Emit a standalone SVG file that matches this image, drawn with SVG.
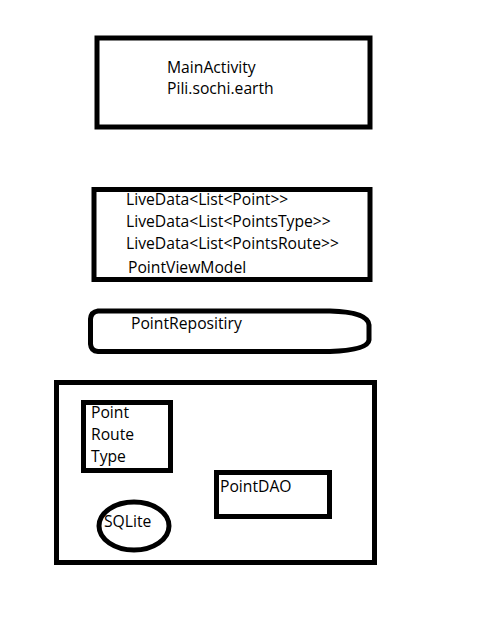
<svg xmlns="http://www.w3.org/2000/svg" width="480" height="640" viewBox="0 0 480 640">
<style>
.s{fill:none;stroke:#000;stroke-width:5}
.t{font-family:"Open Sans","Noto Sans",sans-serif;font-size:15.7px;fill:#000}
</style>
<rect width="480" height="640" fill="#fff"/>
<g id="main-activity">
<rect class="s" x="97" y="38" width="273" height="89"/>
<text class="t" x="167" y="73">MainActivity</text>
<text class="t" x="167" y="94">Pili.sochi.earth</text>
</g>
<g id="point-view-model">
<rect class="s" x="94" y="189.5" width="276" height="90"/>
<text class="t" x="126" y="205">LiveData&lt;List&lt;Point&gt;&gt;</text>
<text class="t" x="126" y="227">LiveData&lt;List&lt;PointsType&gt;&gt;</text>
<text class="t" x="126" y="248.5">LiveData&lt;List&lt;PointsRoute&gt;&gt;</text>
<text class="t" x="128" y="273">PointViewModel</text>
</g>
<g id="point-repository">
<path class="s" d="M98,311 L330,311 Q368,312 369,325 L369,340 Q368,350 330,351.5 L98,351.5 Q91,351 90.5,344 L90.5,319 Q91,312 98,311 Z"/>
<text class="t" x="131" y="329">PointRepositiry</text>
</g>
<g id="database">
<rect class="s" x="56.5" y="382.5" width="318" height="180"/>
</g>
<g id="entities">
<rect class="s" x="83.5" y="402.5" width="87" height="68"/>
<text class="t" x="91" y="418">Point</text>
<text class="t" x="91" y="440">Route</text>
<text class="t" x="91" y="462">Type</text>
</g>
<g id="point-dao">
<rect class="s" x="216.5" y="472.5" width="113" height="44"/>
<text class="t" x="220" y="492">PointDAO</text>
</g>
<g id="sqlite">
<ellipse class="s" cx="134" cy="526" rx="35" ry="24"/>
<text class="t" x="104" y="527">SQLite</text>
</g>
<g id="connectors"></g>
</svg>
